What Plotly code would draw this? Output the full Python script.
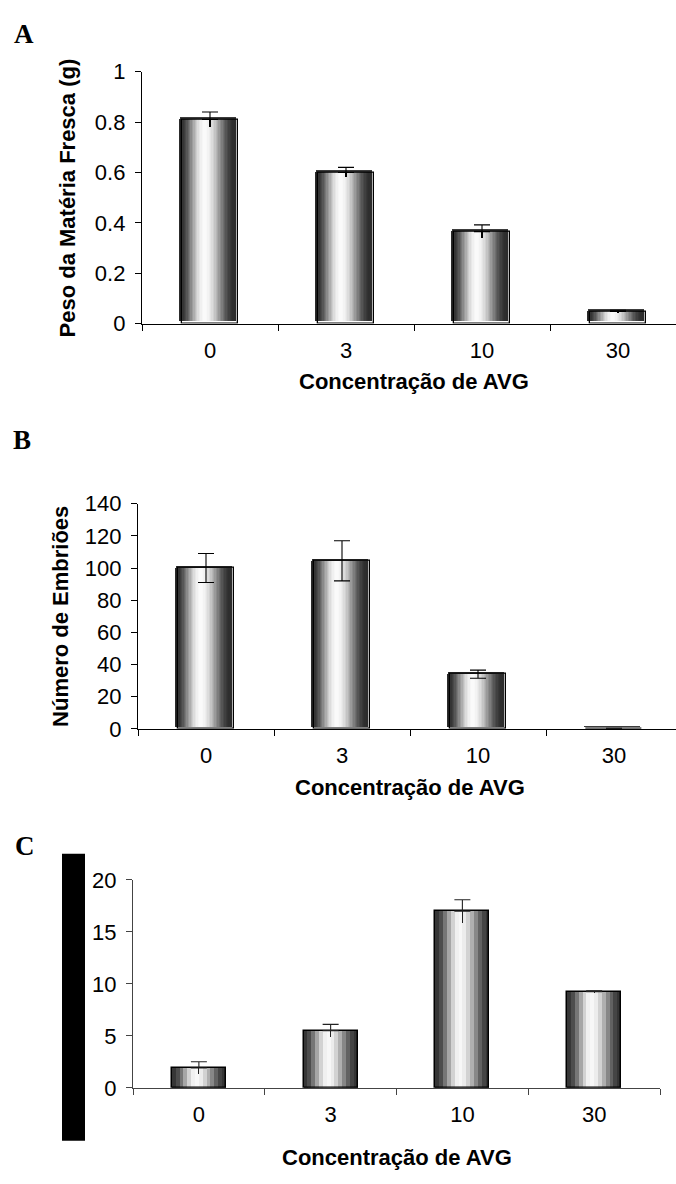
import numpy as np
import plotly.graph_objects as go

# ---------------- data ----------------
categories = ["0", "3", "10", "30"]

fresh_mass = [0.81, 0.60, 0.365, 0.048]
fresh_mass_err = [0.03, 0.02, 0.027, 0.005]

embryos = [100, 104.5, 34, 0.3]
embryos_err = [9, 12.5, 2.5, 0]

panel_c = [1.9, 5.5, 17.0, 9.25]
panel_c_err = [0.6, 0.6, 1.1, 0.08]

x_title = "Concentração de AVG"
y_title_a = "Peso da Matéria Fresca (g)"
y_title_b = "Número de Embriões"

# ---------------- layout constants ----------------
W, H = 676, 1184
SANS = "Arial, Liberation Sans, sans-serif"
SERIF = "Times New Roman, Liberation Serif, serif"
BAR_W = 0.41


def shade(t, lo=0.17, hi=0.98, peak=0.45):
    u = t / peak if t < peak else (1 - t) / (1 - peak)
    v = lo + (hi - lo) * (0.5 - 0.5 * np.cos(np.pi * u))
    g = int(round(255 * v))
    return f"rgb({g},{g},{g})"


panels = [
    dict(ax="", xpx=(142, 676), ypx=(61, 318.3), yr=[0, 1], dtick=0.2,
         vals=fresh_mass, errs=fresh_mass_err, style="smooth", xr_end=None, lower_cap=False),
    dict(ax="2", xpx=(138, 676), ypx=(502.3, 732.3), yr=[0, 140], dtick=20,
         vals=embryos, errs=embryos_err, style="smooth", xr_end=None, lower_cap=True),
    dict(ax="3", xpx=(133, 660), ypx=(886.7, 1099), yr=[0, 20], dtick=5,
         vals=panel_c, errs=panel_c_err, style="banded", xr_end=3.5, lower_cap=False),
]

fig = go.Figure()
layout_axes = {}

for p in panels:
    xname = "x" + p["ax"]
    yname = "y" + p["ax"]
    x0, x1 = p["xpx"]
    cat_px = 136 if p["style"] == "smooth" else (x1 - x0) / 4
    xr = [-0.5, p["xr_end"] if p["xr_end"] is not None else -0.5 + (x1 - x0) / cat_px]
    ytop, ybot = p["ypx"]
    y_per_px = (p["yr"][1] - p["yr"][0]) / (ybot - ytop)

    if p["style"] == "smooth":
        dx = 2.3 / cat_px
        dy = 2.5 * y_per_px
        n = 40
        fig.add_trace(go.Bar(
            x=categories, y=p["vals"], base=dy, offset=-BAR_W / 2 - dx, width=BAR_W,
            marker=dict(color="rgb(60,60,60)", line=dict(width=0)),
            xaxis=xname, yaxis=yname, hoverinfo="skip", showlegend=False))
        top_trim = 2.0 * y_per_px
        grad_vals = [max(v - top_trim, 0) for v in p["vals"]]
        for i in range(n):
            t = (i + 0.5) / n
            fig.add_trace(go.Bar(
                x=categories, y=grad_vals, base=dy,
                offset=-BAR_W / 2 - dx + i * BAR_W / n, width=BAR_W / n * 1.06,
                marker=dict(color=shade(t), line=dict(width=0)),
                xaxis=xname, yaxis=yname, hoverinfo="skip", showlegend=False))
        line_col, line_w, err_col, axis_col, axis_w = "black", 1.3, "black", "black", 1.3
    else:
        n = 14
        for i in range(n):
            t = (i + 0.5) / n
            fig.add_trace(go.Bar(
                x=categories, y=p["vals"],
                offset=-BAR_W / 2 + i * BAR_W / n, width=BAR_W / n * 1.02,
                marker=dict(color=shade(t, lo=0.2, hi=0.97), line=dict(width=0)),
                xaxis=xname, yaxis=yname, hoverinfo="skip", showlegend=False))
        line_col, line_w, err_col, axis_col, axis_w = "black", 1.5, "#222", "#444", 1.1

    zeros = [0] * len(categories)
    if p["lower_cap"]:
        err_main = dict(type="data", array=p["errs"], visible=True, color=err_col,
                        thickness=1.1, width=8)
    else:
        err_main = dict(type="data", symmetric=False, array=p["errs"], arrayminus=zeros,
                        visible=True, color=err_col, thickness=1.1, width=8)
        # lower half of the error bar, drawn without a cap
        fig.add_trace(go.Bar(
            x=categories, y=p["vals"], offset=-BAR_W / 2, width=BAR_W,
            marker=dict(color="rgba(0,0,0,0)", line=dict(width=0)),
            error_y=dict(type="data", symmetric=False, array=zeros, arrayminus=p["errs"],
                         visible=True, color=err_col, thickness=1.1, width=0),
            xaxis=xname, yaxis=yname, hoverinfo="skip", showlegend=False))

    fig.add_trace(go.Bar(
        x=categories, y=p["vals"], offset=-BAR_W / 2, width=BAR_W,
        marker=dict(color="rgba(0,0,0,0)", line=dict(color=line_col, width=line_w)),
        error_y=err_main,
        xaxis=xname, yaxis=yname, hoverinfo="skip", showlegend=False))

    layout_axes["xaxis" + p["ax"]] = dict(
        domain=[x0 / W, x1 / W], range=xr, type="category",
        categoryorder="array", categoryarray=categories,
        tickson="boundaries", ticks="outside", ticklen=6, tickcolor=axis_col, tickwidth=axis_w,
        showline=True, linecolor=axis_col, linewidth=axis_w, showgrid=False, zeroline=False,
        tickfont=dict(family=SANS, size=22, color="black"), ticklabelstandoff=7,
        anchor=yname, fixedrange=True)
    layout_axes["yaxis" + p["ax"]] = dict(
        domain=[1 - ybot / H, 1 - ytop / H], range=p["yr"], dtick=p["dtick"], tick0=0,
        ticks="outside", ticklen=6, tickcolor=axis_col, tickwidth=axis_w,
        showline=True, linecolor=axis_col, linewidth=axis_w, showgrid=False, zeroline=False,
        tickfont=dict(family=SANS, size=22, color="black"), ticklabelstandoff=5,
        anchor=xname, fixedrange=True)

annotations = []


def ann(text, xpx, ypx, size, family, angle=0, xanchor="center"):
    annotations.append(dict(
        text=text, x=xpx / W, y=1 - ypx / H, xref="paper", yref="paper",
        xanchor=xanchor, yanchor="middle", showarrow=False, textangle=angle,
        font=dict(family=family, size=size, color="black", weight="bold")))


ann(x_title, 414, 377, 22, SANS)
ann(x_title, 410, 792, 22, SANS)
ann(x_title, 396.5, 1170, 22, SANS)
ann(y_title_a, 67.5, 190, 22, SANS, angle=-90)
ann(y_title_b, 61, 618, 22, SANS, angle=-90)
ann("A", 12, 22, 27, SERIF, xanchor="left")
ann("B", 11, 437, 27, SERIF, xanchor="left")
ann("C", 13, 852, 27, SERIF, xanchor="left")

fig.update_layout(
    width=W, height=H, margin=dict(l=0, r=0, t=0, b=0),
    paper_bgcolor="white", plot_bgcolor="white",
    barmode="overlay", bargap=0, showlegend=False,
    annotations=annotations,
    shapes=[dict(type="rect", xref="paper", yref="paper",
                 x0=62 / W, x1=85 / W, y0=1 - 1153 / H, y1=1 - 860 / H,
                 fillcolor="black", line=dict(width=0))],
    **layout_axes)

fig.write_html("out.html")
